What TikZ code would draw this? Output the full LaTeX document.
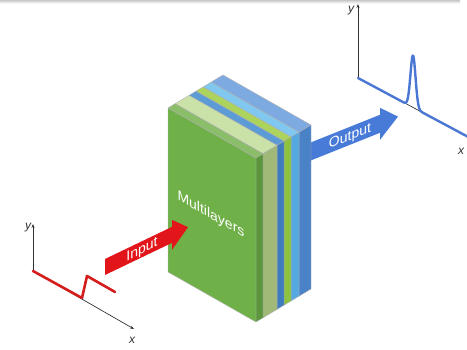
\documentclass[tikz,border=0pt]{standalone}
\usepackage{fontspec}
\setmainfont{Liberation Sans}
\usetikzlibrary{arrows.meta}

% layer colours: F = front face, T = top face, S = side face
\definecolor{gF}{RGB}{112,176,72}
\definecolor{gT}{RGB}{138,190,104}
\definecolor{gS}{RGB}{92,150,60}
\definecolor{pT}{RGB}{202,226,168}
\definecolor{pS}{RGB}{160,184,120}
\definecolor{b1T}{RGB}{92,155,213}
\definecolor{b1S}{RGB}{62,124,190}
\definecolor{lgT}{RGB}{172,212,92}
\definecolor{lgS}{RGB}{140,194,62}
\definecolor{lbT}{RGB}{128,200,240}
\definecolor{lbS}{RGB}{86,168,224}
\definecolor{b2T}{RGB}{126,170,226}
\definecolor{b2S}{RGB}{74,130,200}
\definecolor{inred}{RGB}{226,22,26}
\definecolor{outblue}{RGB}{72,122,216}
\definecolor{sigred}{RGB}{212,30,30}
\definecolor{sigblue}{RGB}{74,118,212}
\definecolor{axisgray}{RGB}{50,50,50}

\tikzset{
  slabedge/.style={draw=black!30, line width=0.4pt, line join=round},
  axisline/.style={draw=axisgray, line width=0.7pt, -{Stealth[length=4pt,width=3pt]}},
  axislabel/.style={font=\fontsize{12}{12}\selectfont\itshape, text=axisgray, inner sep=0pt},
  arrowtext/.style={transform shape, text=white, font=\fontsize{14}{14}\selectfont, inner sep=0pt},
  signal/.style={line width=2.6pt, line join=round, line cap=round}
}

\begin{document}
\begin{tikzpicture}[x=1pt,y=1pt]
\useasboundingbox (0,0) rectangle (467,350);

% faint shadow along the top edge
\shade[top color=black!22, bottom color=white] (0,346.5) rectangle (460,350);

% output arrow, running out from behind the stack
\begin{scope}[shift={(312,199)}, cm={1,0.4,0,1,(0,0)}]
  \fill[outblue] (-12,-9) -- (68,-9) -- (68,-16) -- (86,0) -- (68,16) -- (68,9) -- (-12,9) -- cycle;
  \node[arrowtext] (outlabel) at (38,-1) {Output};
\end{scope}

% corners of the front face of the stack
\coordinate (TL) at (168,242);
\coordinate (TR) at (256,192);
\coordinate (BR) at (256,28);
\coordinate (BL) at (168,78);

% slabs of the stack, drawn from back to front: depth start / depth end / colours
\foreach \a/\b/\cf/\ct/\cs in {43/55/b2S/b2T/b2S, 35/43/lbS/lbT/lbS, 28/35/lgS/lgT/lgS,
                             21/28/b1S/b1T/b1S, 7/21/pS/pT/pS, 0/7/gF/gT/gS} {
  \pgfmathsetmacro\ay{0.6*\a}
  \pgfmathsetmacro\by{0.6*\b}
  \filldraw[slabedge, fill=\ct] ([shift={(\a,\ay)}]TL) -- ([shift={(\a,\ay)}]TR)
      -- ([shift={(\b,\by)}]TR) -- ([shift={(\b,\by)}]TL) -- cycle;
  \filldraw[slabedge, fill=\cs] ([shift={(\a,\ay)}]TR) -- ([shift={(\a,\ay)}]BR)
      -- ([shift={(\b,\by)}]BR) -- ([shift={(\b,\by)}]TR) -- cycle;
  \filldraw[slabedge, fill=\cf] ([shift={(\a,\ay)}]TL) -- ([shift={(\a,\ay)}]TR)
      -- ([shift={(\a,\ay)}]BR) -- ([shift={(\a,\ay)}]BL) -- cycle;
}

% label on the front face
\begin{scope}[shift={(211,135)}, cm={1,-0.568,0,1,(0,0)}]
  \node[arrowtext, font=\fontsize{14}{14}\selectfont] (stack) at (0,0) {Multilayers};
\end{scope}

% input arrow
\begin{scope}[shift={(105,83)}, cm={1,0.48,0,1,(0,0)}]
  \fill[inred] (0,-8) -- (67,-8) -- (67,-15) -- (83,0) -- (67,15) -- (67,8) -- (0,8) -- cycle;
  \node[arrowtext] (inlabel) at (37,-1) {Input};
\end{scope}

% input signal axes
\coordinate (O1) at (33,79);
\coordinate (Y1) at (33,126);
\coordinate (X1) at (134,21);
\draw[axisline] (O1) -- (Y1);
\draw[axisline] (O1) -- (X1);
\node[axislabel] (y1) at (28,122) {y};
\node[axislabel] (x1) at (132,10) {x};
\draw[signal, sigred] (O1) -- (82,52) -- (87,74) -- (115,58);

% output signal axes
\coordinate (O2) at (358,272);
\coordinate (Y2) at (358,346);
\coordinate (X2) at (472,211);
\draw[axisline] (O2) -- (Y2);
\draw[axisline] (O2) -- (X2);
\node[axislabel] (y2) at (351,339) {y};
\node[axislabel] (x2) at (461,199) {x};
\draw[signal, sigblue, line width=2.4pt] plot[domain=358:472, samples=220, smooth]
  (\x, {272 - 0.535*(\x-358) + 52*exp(-((\x-413)/3.6)^2)});

\end{tikzpicture}
\end{document}
